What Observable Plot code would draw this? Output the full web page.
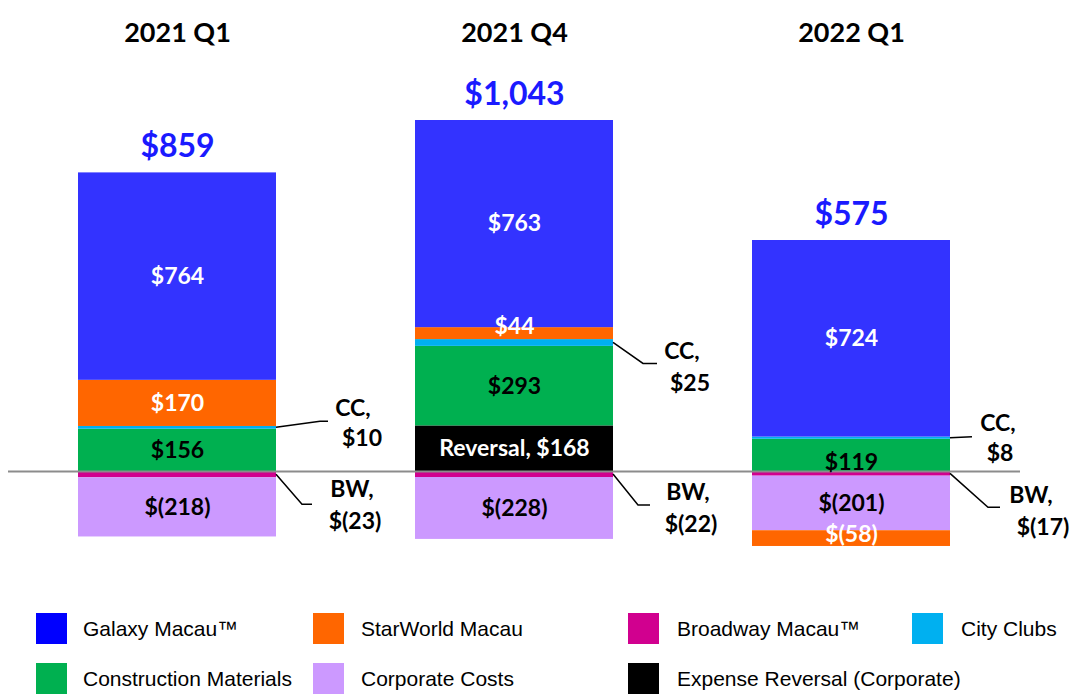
<!DOCTYPE html>
<html>
<head>
<meta charset="utf-8">
<script src="https://cdn.jsdelivr.net/npm/d3@7"></script>
<script src="https://cdn.jsdelivr.net/npm/@observablehq/plot@0.6"></script>
<style>
  body { margin: 0; background: #fff; }
  #wrap { position: relative; width: 1086px; height: 697px; }
  #legend { position: relative; width: 1086px; height: 97px; font-family: "Liberation Sans", Arial, sans-serif; font-size: 21px; color: #000; }
  .sw { position: absolute; width: 31px; height: 31px; }
  .lt { position: absolute; line-height: 31px; white-space: nowrap; font-family: "Liberation Sans", Arial, sans-serif; }
</style>
</head>
<body>
<div id="wrap">
  <div id="chart"></div>
  <div id="legend"></div>
</div>
<script>
// ---- data ----
const periods = ["2021 Q1", "2021 Q4", "2022 Q1"];
const segments = ["Galaxy Macau™", "StarWorld Macau", "Broadway Macau™", "City Clubs",
  "Construction Materials", "Corporate Costs", "Expense Reversal (Corporate)"];
const galaxy = [764, 763, 724];
const starWorld = [170, 44, -58];
const broadway = [-23, -22, -17];
const cityClubs = [10, 25, 8];
const construction = [156, 293, 119];
const corporate = [-218, -228, -201];
const expenseReversal = [0, 168, 0];
const totals = [859, 1043, 575];

// ---- styles ----
const barColors = ["#3333ff", "#ff6600", "#d1008f", "#00b0f0", "#00b050", "#cc99ff", "#000000"];
const legendColors = ["#0000ff", "#ff6600", "#d1008f", "#00b0f0", "#00b050", "#cc99ff", "#000000"];
const stackOrder = ["Expense Reversal (Corporate)", "Construction Materials", "City Clubs",
  "Broadway Macau™", "Corporate Costs", "StarWorld Macau", "Galaxy Macau™"];
const seriesValues = {
  "Galaxy Macau™": galaxy, "StarWorld Macau": starWorld, "Broadway Macau™": broadway,
  "City Clubs": cityClubs, "Construction Materials": construction,
  "Corporate Costs": corporate, "Expense Reversal (Corporate)": expenseReversal
};

// ---- build stacked table ----
const rows = [];
periods.forEach((p, i) => {
  let pos = 0, neg = 0;
  stackOrder.forEach(s => {
    const v = seriesValues[s][i];
    if (!v) return;
    let y1, y2;
    if (v > 0) { y1 = pos; y2 = pos + v; pos = y2; } else { y1 = neg; y2 = neg + v; neg = y2; }
    rows.push({period: p, segment: s, value: v, y1, y2, mid: (y1 + y2) / 2});
  });
});
const posTop = periods.map(p => d3.max(rows.filter(r => r.period === p), r => Math.max(r.y1, r.y2)));
const totalRows = periods.map((p, i) => ({period: p, total: totals[i], top: posTop[i]}));

const fmt = v => v < 0 ? `$(${d3.format(",")(-v)})` : `$${d3.format(",")(v)}`;
const labelText = r => r.segment === "Expense Reversal (Corporate)" ? `Reversal, ${fmt(r.value)}` : fmt(r.value);

const inside = rows.filter(r => r.segment !== "City Clubs" && r.segment !== "Broadway Macau™");
const whiteSegs = new Set(["Galaxy Macau™", "StarWorld Macau", "Expense Reversal (Corporate)"]);
// small vertical nudges (px) for labels in thin segments
const nudge = {"2021 Q4|StarWorld Macau": -7, "2022 Q1|Construction Materials": 7, "2022 Q1|StarWorld Macau": -4};
const key = r => r.period + "|" + r.segment;

const labelFont = "Lato, 'Open Sans', sans-serif";
const textMarks = [];
[-7, -4, 0, 7].forEach(dy => {
  const grp = inside.filter(r => (nudge[key(r)] || 0) === dy);
  textMarks.push(Plot.text(grp.filter(r => whiteSegs.has(r.segment)), {
    x: "period", y: "mid", text: labelText, dy, fill: "white",
    fontSize: 23, fontWeight: "bold", fontFamily: labelFont
  }));
  textMarks.push(Plot.text(grp.filter(r => !whiteSegs.has(r.segment)), {
    x: "period", y: "mid", text: labelText, dy, fill: "black",
    fontSize: 23, fontWeight: "bold", fontFamily: labelFont
  }));
});

const plot = Plot.plot({
  width: 1086,
  height: 600,
  marginTop: 0, marginBottom: 0, marginLeft: 8, marginRight: 66,
  x: {domain: periods, paddingInner: 0.413, paddingOuter: 0.2067, axis: null},
  y: {domain: [-475, 1735], axis: null},
  color: {domain: segments, range: barColors},
  style: {background: "white"},
  marks: [
    Plot.barY(rows, {x: "period", y1: "y1", y2: "y2", fill: "segment", inset: 0}),
    Plot.ruleY([0], {stroke: "#8c8c8c", strokeWidth: 2}),
    ...textMarks,
    Plot.text(totalRows, {x: "period", y: "top", text: d => fmt(d.total), dy: -26,
      fill: "#1a1aff", fontSize: 32, fontWeight: "bold", fontFamily: labelFont}),
    Plot.text(periods, {x: d => d, frameAnchor: "top", dy: 22, text: d => d,
      fill: "black", fontSize: 27, fontWeight: "bold", fontFamily: labelFont})
  ]
});
document.getElementById("chart").appendChild(plot);

// ---- callout annotations (City Clubs, Broadway) using the plot's scales ----
const xs = plot.scale("x"), ys = plot.scale("y");
const callouts = [
  {period: "2021 Q1", segment: "City Clubs", tag: "CC,", elbow: [44, -6], end: 52, t1: [77, -19], t2: [86, 11]},
  {period: "2021 Q1", segment: "Broadway Macau™", tag: "BW,", elbow: [26, 30], end: 36, t1: [76, 15], t2: [79, 47]},
  {period: "2021 Q4", segment: "City Clubs", tag: "CC,", elbow: [30, 21], end: 44, t1: [69, 8], t2: [77, 40]},
  {period: "2021 Q4", segment: "Broadway Macau™", tag: "BW,", elbow: [25, 31], end: 37, t1: [75, 18], t2: [78, 50]},
  {period: "2022 Q1", segment: "City Clubs", tag: "CC,", elbow: [22, -1], end: 22, t1: [48, -15], t2: [50, 15]},
  {period: "2022 Q1", segment: "Broadway Macau™", tag: "BW,", elbow: [38, 34], end: 50, t1: [81, 22], t2: [93, 54]}
];
const svg = d3.select(plot);
const g = svg.append("g");
callouts.forEach(c => {
  const r = rows.find(d => d.period === c.period && d.segment === c.segment);
  const ax = xs.apply(c.period) + xs.bandwidth;
  const ay = ys.apply(r.mid);
  g.append("polyline")
    .attr("points", [[ax, ay], [ax + c.elbow[0], ay + c.elbow[1]], [ax + c.end, ay + c.elbow[1]]].map(p => p.join(",")).join(" "))
    .attr("fill", "none").attr("stroke", "black").attr("stroke-width", 1.5);
  [[c.tag, c.t1], [fmt(r.value), c.t2]].forEach(([t, o]) => {
    g.append("text")
      .attr("x", ax + o[0]).attr("y", ay + o[1]).attr("dy", "0.35em")
      .attr("text-anchor", "middle")
      .attr("font-family", labelFont).attr("font-weight", "bold").attr("font-size", 23)
      .attr("fill", "black").text(t);
  });
});

// ---- legend ----
const legendPos = [
  {sx: 36, tx: 83, top: 13}, {sx: 313, tx: 361, top: 13}, {sx: 628, tx: 677, top: 13}, {sx: 912, tx: 961, top: 13},
  {sx: 36, tx: 83, top: 63}, {sx: 313, tx: 361, top: 63}, {sx: 628, tx: 677, top: 63}
];
const legend = document.getElementById("legend");
segments.forEach((s, i) => {
  const p = legendPos[i];
  const sw = document.createElement("div");
  sw.className = "sw";
  sw.style.left = p.sx + "px"; sw.style.top = p.top + "px"; sw.style.background = legendColors[i];
  const t = document.createElement("div");
  t.className = "lt";
  t.style.left = p.tx + "px"; t.style.top = p.top + "px";
  t.textContent = s;
  legend.appendChild(sw); legend.appendChild(t);
});
</script>
</body>
</html>
